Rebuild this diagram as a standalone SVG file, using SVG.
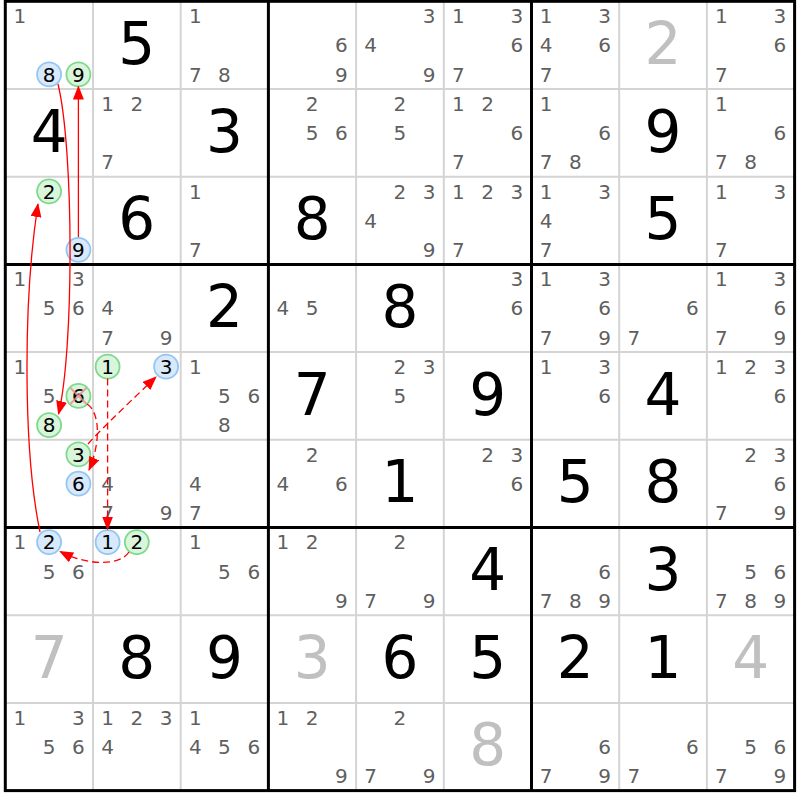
<svg xmlns="http://www.w3.org/2000/svg" width="800" height="800" viewBox="0 0 800 800">
<style>
text{font-family:"DejaVu Sans","Liberation Sans",sans-serif;text-anchor:middle}
.c{font-size:20px;fill:#5f5f5f}
.k{font-size:20px;fill:#000}
.g{font-size:58px;fill:#000}
.h{font-size:58px;fill:#c0c0c0}
.thin{stroke:#d4d4d4;stroke-width:2}
.thick{stroke:#000;stroke-width:3}
.cb{fill:#d8e9fb;stroke:#94c6f2;stroke-width:1.8}
.cg{fill:#d9f5dc;stroke:#7fd98c;stroke-width:1.8}
.ln{fill:none;stroke:#f00;stroke-width:1.3}
.ds{stroke-dasharray:7,4}
</style>
<defs>
<marker id="ah" markerUnits="userSpaceOnUse" markerWidth="14" markerHeight="11" refX="13" refY="5.5" orient="auto"><path d="M0,0 L14,5.5 L0,11 z" fill="#f00"/></marker>
</defs>
<rect width="800" height="800" fill="#fff"/>
<g id="grid">
<path class="thin" d="M93,1.3V790.6M180.7,1.3V790.6M356.1,1.3V790.6M443.8,1.3V790.6M619.2,1.3V790.6M706.9,1.3V790.6M5.3,89H794.6M5.3,176.7H794.6M5.3,352.1H794.6M5.3,439.8H794.6M5.3,615.2H794.6M5.3,702.9H794.6"/>
<path class="thick" d="M268.4,1.3V790.6M531.5,1.3V790.6M5.3,264.4H794.6M5.3,527.5H794.6"/>
<rect x="5.3" y="1.3" width="789.3" height="789.3" fill="none" stroke="#000" stroke-width="3"/>
</g>
<!-- Row 0 -->
<g id="r0c0" transform="translate(5.3,1.3)"><text class="c" x="14.6" y="21.9">1</text>
<circle class="cb" cx="43.8" cy="73.1" r="12"/><text class="k" x="43.8" y="80.4">8</text>
<circle class="cg" cx="73.1" cy="73.1" r="12"/><text class="k" x="73.1" y="80.4">9</text></g>
<g id="r0c1" transform="translate(93,1.3)"><text class="g" x="43.8" y="62.5">5</text></g>
<g id="r0c2" transform="translate(180.7,1.3)"><text class="c" x="14.6" y="21.9">1</text><text class="c" x="14.6" y="80.4">7</text><text class="c" x="43.8" y="80.4">8</text></g>
<g id="r0c3" transform="translate(268.4,1.3)"><text class="c" x="73.1" y="51.1">6</text><text class="c" x="73.1" y="80.4">9</text></g>
<g id="r0c4" transform="translate(356.1,1.3)"><text class="c" x="73.1" y="21.9">3</text><text class="c" x="14.6" y="51.1">4</text><text class="c" x="73.1" y="80.4">9</text></g>
<g id="r0c5" transform="translate(443.8,1.3)"><text class="c" x="14.6" y="21.9">1</text><text class="c" x="73.1" y="21.9">3</text><text class="c" x="73.1" y="51.1">6</text><text class="c" x="14.6" y="80.4">7</text></g>
<g id="r0c6" transform="translate(531.5,1.3)"><text class="c" x="14.6" y="21.9">1</text><text class="c" x="73.1" y="21.9">3</text><text class="c" x="14.6" y="51.1">4</text><text class="c" x="73.1" y="51.1">6</text><text class="c" x="14.6" y="80.4">7</text></g>
<g id="r0c7" transform="translate(619.2,1.3)"><text class="h" x="43.8" y="62.5">2</text></g>
<g id="r0c8" transform="translate(706.9,1.3)"><text class="c" x="14.6" y="21.9">1</text><text class="c" x="73.1" y="21.9">3</text><text class="c" x="73.1" y="51.1">6</text><text class="c" x="14.6" y="80.4">7</text></g>
<!-- Row 1 -->
<g id="r1c0" transform="translate(5.3,89)"><text class="g" x="43.8" y="62.5">4</text></g>
<g id="r1c1" transform="translate(93,89)"><text class="c" x="14.6" y="21.9">1</text><text class="c" x="43.8" y="21.9">2</text><text class="c" x="14.6" y="80.4">7</text></g>
<g id="r1c2" transform="translate(180.7,89)"><text class="g" x="43.8" y="62.5">3</text></g>
<g id="r1c3" transform="translate(268.4,89)"><text class="c" x="43.8" y="21.9">2</text><text class="c" x="43.8" y="51.1">5</text><text class="c" x="73.1" y="51.1">6</text></g>
<g id="r1c4" transform="translate(356.1,89)"><text class="c" x="43.8" y="21.9">2</text><text class="c" x="43.8" y="51.1">5</text></g>
<g id="r1c5" transform="translate(443.8,89)"><text class="c" x="14.6" y="21.9">1</text><text class="c" x="43.8" y="21.9">2</text><text class="c" x="73.1" y="51.1">6</text><text class="c" x="14.6" y="80.4">7</text></g>
<g id="r1c6" transform="translate(531.5,89)"><text class="c" x="14.6" y="21.9">1</text><text class="c" x="73.1" y="51.1">6</text><text class="c" x="14.6" y="80.4">7</text><text class="c" x="43.8" y="80.4">8</text></g>
<g id="r1c7" transform="translate(619.2,89)"><text class="g" x="43.8" y="62.5">9</text></g>
<g id="r1c8" transform="translate(706.9,89)"><text class="c" x="14.6" y="21.9">1</text><text class="c" x="73.1" y="51.1">6</text><text class="c" x="14.6" y="80.4">7</text><text class="c" x="43.8" y="80.4">8</text></g>
<!-- Row 2 -->
<g id="r2c0" transform="translate(5.3,176.7)">
<circle class="cg" cx="43.8" cy="14.6" r="12"/><text class="k" x="43.8" y="21.9">2</text>
<circle class="cb" cx="73.1" cy="73.1" r="12"/><text class="k" x="73.1" y="80.4">9</text></g>
<g id="r2c1" transform="translate(93,176.7)"><text class="g" x="43.8" y="62.5">6</text></g>
<g id="r2c2" transform="translate(180.7,176.7)"><text class="c" x="14.6" y="21.9">1</text><text class="c" x="14.6" y="80.4">7</text></g>
<g id="r2c3" transform="translate(268.4,176.7)"><text class="g" x="43.8" y="62.5">8</text></g>
<g id="r2c4" transform="translate(356.1,176.7)"><text class="c" x="43.8" y="21.9">2</text><text class="c" x="73.1" y="21.9">3</text><text class="c" x="14.6" y="51.1">4</text><text class="c" x="73.1" y="80.4">9</text></g>
<g id="r2c5" transform="translate(443.8,176.7)"><text class="c" x="14.6" y="21.9">1</text><text class="c" x="43.8" y="21.9">2</text><text class="c" x="73.1" y="21.9">3</text><text class="c" x="14.6" y="80.4">7</text></g>
<g id="r2c6" transform="translate(531.5,176.7)"><text class="c" x="14.6" y="21.9">1</text><text class="c" x="73.1" y="21.9">3</text><text class="c" x="14.6" y="51.1">4</text><text class="c" x="14.6" y="80.4">7</text></g>
<g id="r2c7" transform="translate(619.2,176.7)"><text class="g" x="43.8" y="62.5">5</text></g>
<g id="r2c8" transform="translate(706.9,176.7)"><text class="c" x="14.6" y="21.9">1</text><text class="c" x="73.1" y="21.9">3</text><text class="c" x="14.6" y="80.4">7</text></g>
<!-- Row 3 -->
<g id="r3c0" transform="translate(5.3,264.4)"><text class="c" x="14.6" y="21.9">1</text><text class="c" x="73.1" y="21.9">3</text><text class="c" x="43.8" y="51.1">5</text><text class="c" x="73.1" y="51.1">6</text></g>
<g id="r3c1" transform="translate(93,264.4)"><text class="c" x="14.6" y="51.1">4</text><text class="c" x="14.6" y="80.4">7</text><text class="c" x="73.1" y="80.4">9</text></g>
<g id="r3c2" transform="translate(180.7,264.4)"><text class="g" x="43.8" y="62.5">2</text></g>
<g id="r3c3" transform="translate(268.4,264.4)"><text class="c" x="14.6" y="51.1">4</text><text class="c" x="43.8" y="51.1">5</text></g>
<g id="r3c4" transform="translate(356.1,264.4)"><text class="g" x="43.8" y="62.5">8</text></g>
<g id="r3c5" transform="translate(443.8,264.4)"><text class="c" x="73.1" y="21.9">3</text><text class="c" x="73.1" y="51.1">6</text></g>
<g id="r3c6" transform="translate(531.5,264.4)"><text class="c" x="14.6" y="21.9">1</text><text class="c" x="73.1" y="21.9">3</text><text class="c" x="73.1" y="51.1">6</text><text class="c" x="14.6" y="80.4">7</text><text class="c" x="73.1" y="80.4">9</text></g>
<g id="r3c7" transform="translate(619.2,264.4)"><text class="c" x="73.1" y="51.1">6</text><text class="c" x="14.6" y="80.4">7</text></g>
<g id="r3c8" transform="translate(706.9,264.4)"><text class="c" x="14.6" y="21.9">1</text><text class="c" x="73.1" y="21.9">3</text><text class="c" x="73.1" y="51.1">6</text><text class="c" x="14.6" y="80.4">7</text><text class="c" x="73.1" y="80.4">9</text></g>
<!-- Row 4 -->
<g id="r4c0" transform="translate(5.3,352.1)"><text class="c" x="14.6" y="21.9">1</text><text class="c" x="43.8" y="51.1">5</text>
<circle class="cg" cx="73.1" cy="43.8" r="12"/><text class="k" x="73.1" y="51.1">6</text>
<path d="M65.2,35.9L81,51.7M81,35.9L65.2,51.7" stroke="#f08a8a" stroke-width="2" opacity="0.8"/>
<circle class="cg" cx="43.8" cy="73.1" r="12"/><text class="k" x="43.8" y="80.4">8</text></g>
<g id="r4c1" transform="translate(93,352.1)">
<circle class="cg" cx="14.6" cy="14.6" r="12"/><text class="k" x="14.6" y="21.9">1</text>
<circle class="cb" cx="73.1" cy="14.6" r="12"/><text class="k" x="73.1" y="21.9">3</text></g>
<g id="r4c2" transform="translate(180.7,352.1)"><text class="c" x="14.6" y="21.9">1</text><text class="c" x="43.8" y="51.1">5</text><text class="c" x="73.1" y="51.1">6</text><text class="c" x="43.8" y="80.4">8</text></g>
<g id="r4c3" transform="translate(268.4,352.1)"><text class="g" x="43.8" y="62.5">7</text></g>
<g id="r4c4" transform="translate(356.1,352.1)"><text class="c" x="43.8" y="21.9">2</text><text class="c" x="73.1" y="21.9">3</text><text class="c" x="43.8" y="51.1">5</text></g>
<g id="r4c5" transform="translate(443.8,352.1)"><text class="g" x="43.8" y="62.5">9</text></g>
<g id="r4c6" transform="translate(531.5,352.1)"><text class="c" x="14.6" y="21.9">1</text><text class="c" x="73.1" y="21.9">3</text><text class="c" x="73.1" y="51.1">6</text></g>
<g id="r4c7" transform="translate(619.2,352.1)"><text class="g" x="43.8" y="62.5">4</text></g>
<g id="r4c8" transform="translate(706.9,352.1)"><text class="c" x="14.6" y="21.9">1</text><text class="c" x="43.8" y="21.9">2</text><text class="c" x="73.1" y="21.9">3</text><text class="c" x="73.1" y="51.1">6</text></g>
<!-- Row 5 -->
<g id="r5c0" transform="translate(5.3,439.8)">
<circle class="cg" cx="73.1" cy="14.6" r="12"/><text class="k" x="73.1" y="21.9">3</text>
<circle class="cb" cx="73.1" cy="43.8" r="12"/><text class="k" x="73.1" y="51.1">6</text></g>
<g id="r5c1" transform="translate(93,439.8)"><text class="c" x="14.6" y="51.1">4</text><text class="c" x="14.6" y="80.4">7</text><text class="c" x="73.1" y="80.4">9</text></g>
<g id="r5c2" transform="translate(180.7,439.8)"><text class="c" x="14.6" y="51.1">4</text><text class="c" x="14.6" y="80.4">7</text></g>
<g id="r5c3" transform="translate(268.4,439.8)"><text class="c" x="43.8" y="21.9">2</text><text class="c" x="14.6" y="51.1">4</text><text class="c" x="73.1" y="51.1">6</text></g>
<g id="r5c4" transform="translate(356.1,439.8)"><text class="g" x="43.8" y="62.5">1</text></g>
<g id="r5c5" transform="translate(443.8,439.8)"><text class="c" x="43.8" y="21.9">2</text><text class="c" x="73.1" y="21.9">3</text><text class="c" x="73.1" y="51.1">6</text></g>
<g id="r5c6" transform="translate(531.5,439.8)"><text class="g" x="43.8" y="62.5">5</text></g>
<g id="r5c7" transform="translate(619.2,439.8)"><text class="g" x="43.8" y="62.5">8</text></g>
<g id="r5c8" transform="translate(706.9,439.8)"><text class="c" x="43.8" y="21.9">2</text><text class="c" x="73.1" y="21.9">3</text><text class="c" x="73.1" y="51.1">6</text><text class="c" x="14.6" y="80.4">7</text><text class="c" x="73.1" y="80.4">9</text></g>
<!-- Row 6 -->
<g id="r6c0" transform="translate(5.3,527.5)"><text class="c" x="14.6" y="21.9">1</text>
<circle class="cb" cx="43.8" cy="14.6" r="12"/><text class="k" x="43.8" y="21.9">2</text>
<text class="c" x="43.8" y="51.1">5</text><text class="c" x="73.1" y="51.1">6</text></g>
<g id="r6c1" transform="translate(93,527.5)">
<circle class="cb" cx="14.6" cy="14.6" r="12"/><text class="k" x="14.6" y="21.9">1</text>
<circle class="cg" cx="43.8" cy="14.6" r="12"/><text class="k" x="43.8" y="21.9">2</text></g>
<g id="r6c2" transform="translate(180.7,527.5)"><text class="c" x="14.6" y="21.9">1</text><text class="c" x="43.8" y="51.1">5</text><text class="c" x="73.1" y="51.1">6</text></g>
<g id="r6c3" transform="translate(268.4,527.5)"><text class="c" x="14.6" y="21.9">1</text><text class="c" x="43.8" y="21.9">2</text><text class="c" x="73.1" y="80.4">9</text></g>
<g id="r6c4" transform="translate(356.1,527.5)"><text class="c" x="43.8" y="21.9">2</text><text class="c" x="14.6" y="80.4">7</text><text class="c" x="73.1" y="80.4">9</text></g>
<g id="r6c5" transform="translate(443.8,527.5)"><text class="g" x="43.8" y="62.5">4</text></g>
<g id="r6c6" transform="translate(531.5,527.5)"><text class="c" x="73.1" y="51.1">6</text><text class="c" x="14.6" y="80.4">7</text><text class="c" x="43.8" y="80.4">8</text><text class="c" x="73.1" y="80.4">9</text></g>
<g id="r6c7" transform="translate(619.2,527.5)"><text class="g" x="43.8" y="62.5">3</text></g>
<g id="r6c8" transform="translate(706.9,527.5)"><text class="c" x="43.8" y="51.1">5</text><text class="c" x="73.1" y="51.1">6</text><text class="c" x="14.6" y="80.4">7</text><text class="c" x="43.8" y="80.4">8</text><text class="c" x="73.1" y="80.4">9</text></g>
<!-- Row 7 -->
<g id="r7c0" transform="translate(5.3,615.2)"><text class="h" x="43.8" y="62.5">7</text></g>
<g id="r7c1" transform="translate(93,615.2)"><text class="g" x="43.8" y="62.5">8</text></g>
<g id="r7c2" transform="translate(180.7,615.2)"><text class="g" x="43.8" y="62.5">9</text></g>
<g id="r7c3" transform="translate(268.4,615.2)"><text class="h" x="43.8" y="62.5">3</text></g>
<g id="r7c4" transform="translate(356.1,615.2)"><text class="g" x="43.8" y="62.5">6</text></g>
<g id="r7c5" transform="translate(443.8,615.2)"><text class="g" x="43.8" y="62.5">5</text></g>
<g id="r7c6" transform="translate(531.5,615.2)"><text class="g" x="43.8" y="62.5">2</text></g>
<g id="r7c7" transform="translate(619.2,615.2)"><text class="g" x="43.8" y="62.5">1</text></g>
<g id="r7c8" transform="translate(706.9,615.2)"><text class="h" x="43.8" y="62.5">4</text></g>
<!-- Row 8 -->
<g id="r8c0" transform="translate(5.3,702.9)"><text class="c" x="14.6" y="21.9">1</text><text class="c" x="73.1" y="21.9">3</text><text class="c" x="43.8" y="51.1">5</text><text class="c" x="73.1" y="51.1">6</text></g>
<g id="r8c1" transform="translate(93,702.9)"><text class="c" x="14.6" y="21.9">1</text><text class="c" x="43.8" y="21.9">2</text><text class="c" x="73.1" y="21.9">3</text><text class="c" x="14.6" y="51.1">4</text></g>
<g id="r8c2" transform="translate(180.7,702.9)"><text class="c" x="14.6" y="21.9">1</text><text class="c" x="14.6" y="51.1">4</text><text class="c" x="43.8" y="51.1">5</text><text class="c" x="73.1" y="51.1">6</text></g>
<g id="r8c3" transform="translate(268.4,702.9)"><text class="c" x="14.6" y="21.9">1</text><text class="c" x="43.8" y="21.9">2</text><text class="c" x="73.1" y="80.4">9</text></g>
<g id="r8c4" transform="translate(356.1,702.9)"><text class="c" x="43.8" y="21.9">2</text><text class="c" x="14.6" y="80.4">7</text><text class="c" x="73.1" y="80.4">9</text></g>
<g id="r8c5" transform="translate(443.8,702.9)"><text class="h" x="43.8" y="62.5">8</text></g>
<g id="r8c6" transform="translate(531.5,702.9)"><text class="c" x="73.1" y="51.1">6</text><text class="c" x="14.6" y="80.4">7</text><text class="c" x="73.1" y="80.4">9</text></g>
<g id="r8c7" transform="translate(619.2,702.9)"><text class="c" x="73.1" y="51.1">6</text><text class="c" x="14.6" y="80.4">7</text></g>
<g id="r8c8" transform="translate(706.9,702.9)"><text class="c" x="43.8" y="51.1">5</text><text class="c" x="73.1" y="51.1">6</text><text class="c" x="14.6" y="80.4">7</text><text class="c" x="73.1" y="80.4">9</text></g>
<!-- Connectors -->
<g id="links">
<path class="ln" d="M78.4,237 L78.4,86.5" marker-end="url(#ah)"/>
<path class="ln" d="M58,84 C74,150 74,350 58.5,414" marker-end="url(#ah)"/>
<path class="ln" d="M40,532 C23,450 23,300 38,204" marker-end="url(#ah)"/>
<path class="ln ds" d="M107.6,378.5 L107.6,529.5" marker-end="url(#ah)"/>
<path class="ln ds" d="M88,444 Q100,430 156,377" marker-end="url(#ah)"/>
<path class="ln ds" d="M87,404 C101,413 100,445 89,470" marker-end="url(#ah)"/>
<path class="ln ds" d="M129,552 C120,566 88,566 60,551.5" marker-end="url(#ah)"/>
</g>
</svg>
